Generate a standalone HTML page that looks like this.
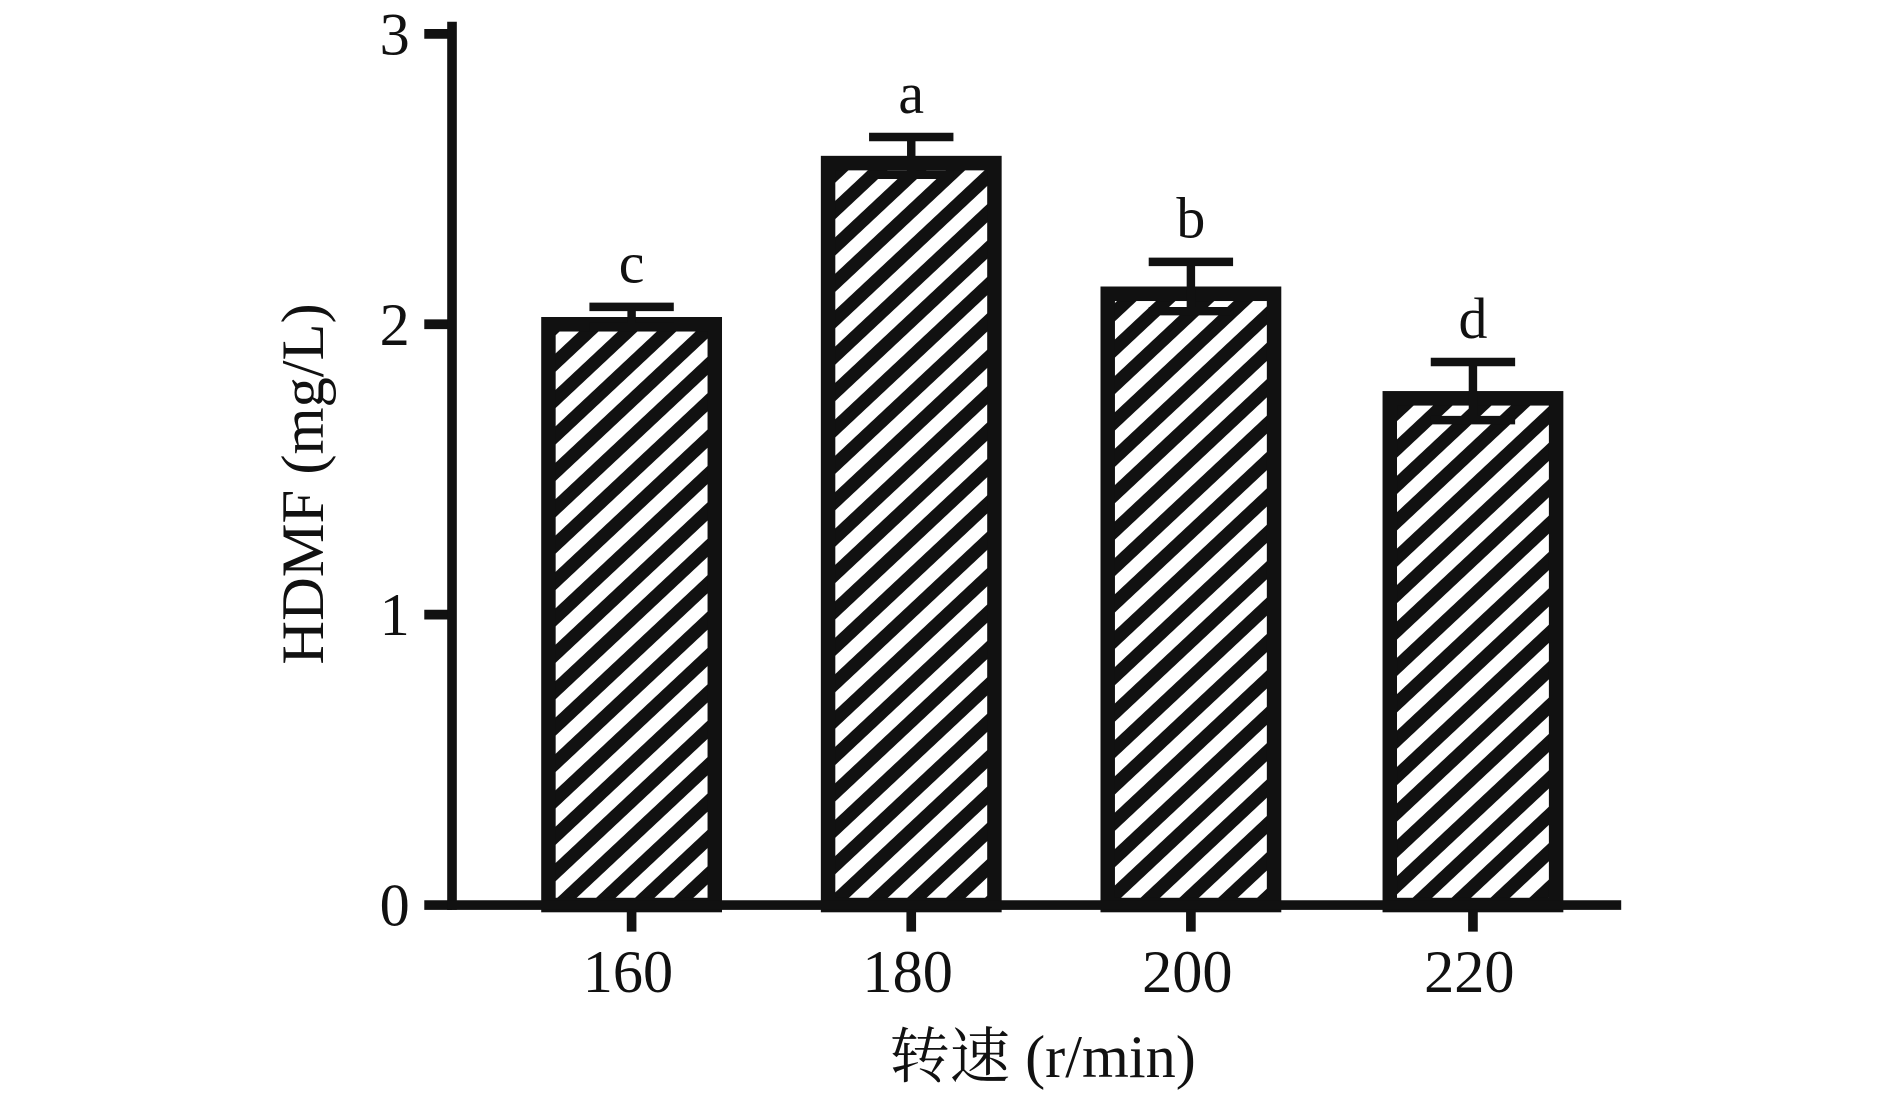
<!DOCTYPE html>
<html><head><meta charset="utf-8">
<style>html,body{margin:0;padding:0;background:#fff;}svg{display:block;}</style>
</head><body>
<svg id="chart" width="1890" height="1095" viewBox="0 0 1568 905" preserveAspectRatio="none" xmlns="http://www.w3.org/2000/svg">
<defs>
<pattern id="hatch" patternUnits="userSpaceOnUse" width="40" height="22" patternTransform="rotate(-43)">
<rect x="0" y="0" width="40" height="22" fill="#fff"/>
<rect x="0" y="0" width="40" height="11" fill="#111"/>
</pattern>
</defs>
<g id="plot"></g>
</svg>
<script>
const categories = ["160","180","200","220"];
const values = [2.025, 2.58, 2.13, 1.77];
const errors = [0.035, 0.065, 0.085, 0.1];
const letters = ["c","a","b","d"];
const yTicks = [0,1,2,3];

const NS="http://www.w3.org/2000/svg";
const g=document.getElementById('plot');
const x0=375,x1=1345,y0=748,unit=240;
const centers=[524,756,988,1222];
const barW=150;
function yScale(v){return y0-v*unit;}
function xScale(i){return centers[i];}
function el(t,a,p){const e=document.createElementNS(NS,t);for(const k in a)e.setAttribute(k,a[k]);(p||g).appendChild(e);return e;}
const font='"Liberation Serif","Noto Serif CJK SC",serif';

categories.forEach((c,i)=>{
  const cx=xScale(i),top=yScale(values[i]);
  const b=el('rect',{x:cx-barW/2+6,y:top+6,width:barW-12,height:y0-top-6,fill:'url(#hatch)',stroke:'#111','stroke-width':12});
  
  
  const eh=yScale(values[i]+errors[i]),el2=yScale(values[i]-errors[i]);
  const e=el('path',{d:`M${cx} ${eh}V${el2}M${cx-35} ${eh}H${cx+35}M${cx-35} ${el2}H${cx+35}`,stroke:'#111','stroke-width':7,fill:'none'});
  
  
  const l=el('text',{x:cx,y:eh-20,'text-anchor':'middle','font-family':font,'font-size':48,fill:'#111'});
  l.textContent=letters[i];
  
  
  const tk=el('line',{x1:cx,y1:y0,x2:cx,y2:y0+22,stroke:'#111','stroke-width':8});
  
  
  const tl=el('text',{x:cx-3,y:820,'text-anchor':'middle','font-family':font,'font-size':50,fill:'#111'});
  tl.textContent=c;
  
  
});

yTicks.forEach(v=>{
  const y=yScale(v);
  const t=el('line',{x1:352,y1:y,x2:x0,y2:y,stroke:'#111','stroke-width':8});
  
  
  const tl=el('text',{x:340,y:y+17,'text-anchor':'end','font-family':font,'font-size':50,fill:'#111'});
  tl.textContent=v;
  
  
});

const ya=el('line',{x1:x0,y1:18,x2:x0,y2:y0+4,stroke:'#111','stroke-width':8});


const xa=el('line',{x1:x0-4,y1:y0,x2:x1,y2:y0,stroke:'#111','stroke-width':8});



const yt=el('text',{x:0,y:0,transform:'translate(268,400) rotate(-90)','text-anchor':'middle','font-family':font,'font-size':50,fill:'#111'});
yt.textContent='HDMF (mg/L)';


const xt=el('text',{x:865,y:890,'text-anchor':'middle','font-family':font,'font-size':50,fill:'#111'});
xt.textContent='转速 (r/min)';


</script>
</body></html>
